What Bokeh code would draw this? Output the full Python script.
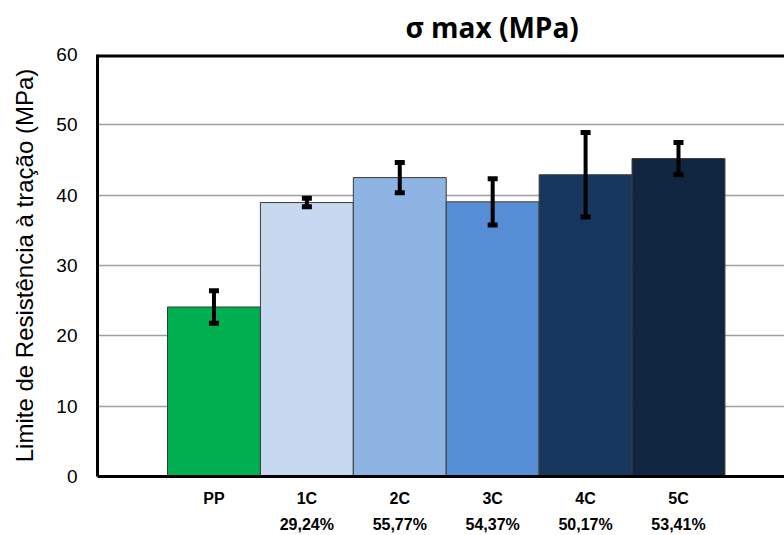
from bokeh.plotting import figure
from bokeh.models import (ColumnDataSource, Range1d, LinearAxis, FixedTicker,
                          Whisker, TeeHead, Span)
from bokeh.embed import file_html
from bokeh.resources import INLINE

# Tensile strength per sample group
categories = ["PP", "1C", "2C", "3C", "4C", "5C"]
percent_labels = ["", "29,24%", "55,77%", "54,37%", "50,17%", "53,41%"]
sigma_max = [24.1, 38.95, 42.5, 39.05, 42.9, 45.2]
sigma_err = [2.3, 0.6, 2.15, 3.3, 6.0, 2.3]
bar_colors = ["#00b050", "#c6d9f1", "#8eb4e3", "#558ed5", "#17375e", "#10253f"]
y_ticks = [0, 10, 20, 30, 40, 50, 60]

xs = list(range(len(categories)))
src = ColumnDataSource(dict(
    x=xs,
    top=sigma_max,
    upper=[v + e for v, e in zip(sigma_max, sigma_err)],
    lower=[v - e for v, e in zip(sigma_max, sigma_err)],
    color=bar_colors,
))

p = figure(width=784, height=535, output_backend="svg", toolbar_location=None,
           x_range=Range1d(-1.2535, 6.141), y_range=Range1d(0, 60),
           min_border_left=97, min_border_right=0, min_border_top=54,
           min_border_bottom=57)
p.outline_line_color = None
p.background_fill_color = "white"
p.border_fill_color = "white"

# Title
p.title.text = "σ max (MPa)"
p.title.text_font = "Open Sans"
p.title.text_font_style = "bold"
p.title.text_font_size = "28px"
p.title.text_color = "black"
p.title.align = "left"
p.title.vertical_align = "top"
p.title.offset = 308
p.title.standoff = 14

# Bars and error bars
p.vbar(x="x", top="top", bottom=0, width=1.0, source=src, fill_color="color",
       line_color="#3a3a3a", line_width=1)
whisk = Whisker(base="x", upper="upper", lower="lower", source=src,
                line_color="black", line_width=4, level="overlay",
                upper_head=TeeHead(size=10, line_width=5, line_color="black"),
                lower_head=TeeHead(size=10, line_width=5, line_color="black"))
p.add_layout(whisk)

# Top border of the plot area
p.add_layout(Span(location=60, dimension="width", line_color="black",
                  line_width=6, level="overlay"))

# Y axis
p.yaxis.ticker = FixedTicker(ticks=y_ticks)
p.yaxis.axis_label = "Limite de Resistência à tração (MPa)"
p.yaxis.axis_label_text_font = "Liberation Sans"
p.yaxis.axis_label_text_font_style = "normal"
p.yaxis.axis_label_text_font_size = "24px"
p.yaxis.axis_label_text_color = "black"
p.yaxis.axis_label_standoff = 15
p.yaxis.major_label_text_font = "Liberation Sans"
p.yaxis.major_label_text_font_size = "19px"
p.yaxis.major_label_text_color = "black"
p.yaxis.major_label_standoff = 14
p.yaxis.major_tick_line_color = None
p.yaxis.minor_tick_line_color = None
p.yaxis.axis_line_width = 3
p.yaxis.axis_line_color = "black"

# Grid
p.xgrid.grid_line_color = None
p.ygrid.ticker = FixedTicker(ticks=y_ticks)
p.ygrid.grid_line_color = "#a0a0a0"
p.ygrid.grid_line_width = 1.3

# X axis: group names
p.xaxis.ticker = FixedTicker(ticks=xs)
p.xaxis.major_label_overrides = {i: c for i, c in zip(xs, categories)}
p.xaxis.major_label_text_font = "Liberation Sans"
p.xaxis.major_label_text_font_style = "bold"
p.xaxis.major_label_text_font_size = "16px"
p.xaxis.major_label_text_color = "black"
p.xaxis.major_label_standoff = 7
p.xaxis.major_tick_line_color = None
p.xaxis.minor_tick_line_color = None
p.xaxis.axis_line_width = 3
p.xaxis.axis_line_color = "black"

# Second row of x labels: percentages
pct_axis = LinearAxis(ticker=FixedTicker(ticks=xs),
                      major_label_overrides={i: t for i, t in zip(xs, percent_labels)})
pct_axis.axis_line_color = None
pct_axis.major_tick_line_color = None
pct_axis.minor_tick_line_color = None
pct_axis.major_label_text_font = "Liberation Sans"
pct_axis.major_label_text_font_style = "bold"
pct_axis.major_label_text_font_size = "16px"
pct_axis.major_label_text_color = "black"
pct_axis.major_label_standoff = 0
p.add_layout(pct_axis, "below")

open("out.html", "w").write(file_html(p, INLINE))
